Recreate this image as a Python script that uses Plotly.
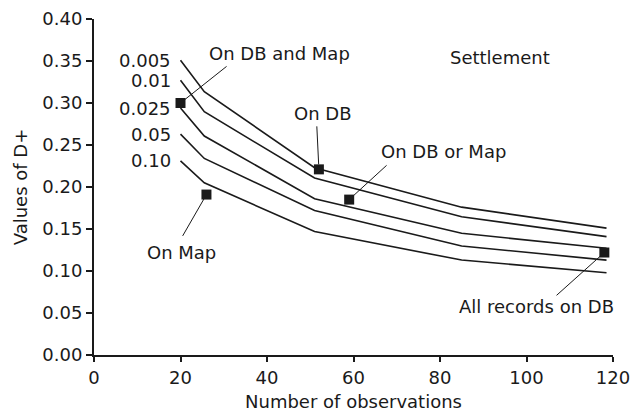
import plotly.graph_objects as go

# Critical-value curves (significance level -> D+ values at n)
n_knots = [20, 25.5, 51, 85, 118.5]
levels = ["0.005", "0.01", "0.025", "0.05", "0.10"]
d_0005 = [0.351, 0.3135, 0.223, 0.176, 0.151]
d_001 = [0.327, 0.2896, 0.2107, 0.1646, 0.1409]
d_0025 = [0.294, 0.2607, 0.186, 0.1449, 0.127]
d_005 = [0.263, 0.234, 0.172, 0.1298, 0.113]
d_010 = [0.231, 0.205, 0.147, 0.113, 0.098]
curves = [d_0005, d_001, d_0025, d_005, d_010]

# Observed points
point_labels = ["On DB and Map", "On DB", "On DB or Map", "On Map", "All records on DB"]
point_n = [20, 52, 59, 26, 118]
point_d = [0.300, 0.221, 0.185, 0.191, 0.122]
# label text positions and leader-line tails (data units)
label_x = [43.0, 52.9, 80.7, 20.2, 102.2]
label_y = [0.3595, 0.288, 0.2417, 0.1226, 0.0583]
tail_x = [31.0, 51.5, 68.0, 20.3, 106.6]
tail_y = [0.345, 0.274, 0.2274, 0.140, 0.0694]

x_ticks = [0, 20, 40, 60, 80, 100, 120]
y_ticks = [0.00, 0.05, 0.10, 0.15, 0.20, 0.25, 0.30, 0.35, 0.40]

INK = "#1a1a1a"
FONT = "DejaVu Sans, sans-serif"
FS = 18

fig = go.Figure()
for lv, ys in zip(levels, curves):
    fig.add_trace(go.Scatter(x=n_knots, y=ys, mode="lines",
                             line=dict(color=INK, width=1.6), name=lv,
                             showlegend=False, hoverinfo="skip"))
fig.add_trace(go.Scatter(x=point_n, y=point_d, mode="markers",
                         marker=dict(symbol="square", size=10, color=INK),
                         showlegend=False))

ann = []
for lv, ys in zip(levels, curves):
    ann.append(dict(x=n_knots[0], y=ys[0], text=lv, showarrow=False,
                    xanchor="right", yanchor="middle", xshift=-8,
                    font=dict(size=FS, color=INK, family=FONT)))
for lab, px, py, lx, ly, tx, ty in zip(point_labels, point_n, point_d,
                                       label_x, label_y, tail_x, tail_y):
    ann.append(dict(x=lx, y=ly, text=lab, showarrow=False,
                    xanchor="center", yanchor="middle",
                    font=dict(size=FS, color=INK, family=FONT)))
    ann.append(dict(x=px, y=py, ax=tx, ay=ty, axref="x", ayref="y",
                    text="", showarrow=True, arrowhead=0, arrowwidth=1,
                    arrowcolor=INK, standoff=5))
ann.append(dict(x=93.9, y=0.3544, text="Settlement", showarrow=False,
                xanchor="center", yanchor="middle",
                font=dict(size=FS, color=INK, family=FONT)))

fig.update_layout(
    width=641, height=415,
    margin=dict(l=94, r=28, t=19, b=60),
    paper_bgcolor="white", plot_bgcolor="white",
    font=dict(family=FONT, size=FS, color=INK),
    annotations=ann,
    xaxis=dict(range=[0, 120], tickvals=x_ticks, ticktext=[str(v) for v in x_ticks],
               showgrid=False, zeroline=False, showline=True, linecolor=INK,
               linewidth=2, ticks="outside", ticklen=5, tickcolor=INK, tickwidth=1.5,
               tickfont=dict(size=FS, family=FONT, color=INK),
               title=dict(text="Number of observations", standoff=9,
                          font=dict(size=FS, family=FONT, color=INK)),
               automargin=False, fixedrange=True),
    yaxis=dict(range=[0, 0.40], tickvals=y_ticks, ticktext=[f"{v:.2f}" for v in y_ticks],
               showgrid=False, zeroline=False, showline=True, linecolor=INK,
               linewidth=2, ticks="outside", ticklen=6, tickcolor=INK, tickwidth=1.5,
               tickfont=dict(size=FS, family=FONT, color=INK),
               title=dict(text="Values of D+", standoff=10,
                          font=dict(size=FS, family=FONT, color=INK)),
               automargin=False, fixedrange=True),
)

fig.write_html("out.html", config={"displayModeBar": False},
               post_script="document.body.style.margin='0';")
